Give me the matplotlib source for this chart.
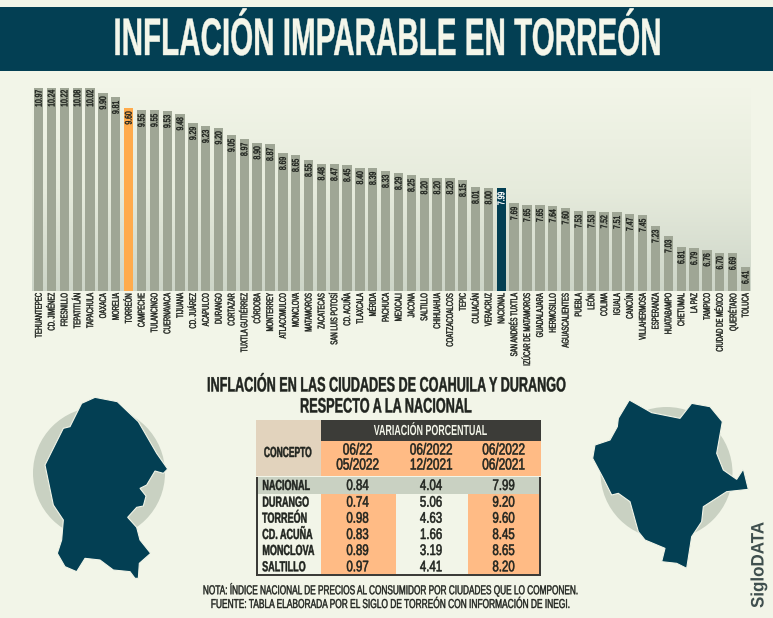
#! /usr/bin/env python3

# Inflacion en Torreon: bar chart of cities, table and two state maps.

import numpy as np
import matplotlib
matplotlib.use("Agg")
import matplotlib.pyplot as plt
from matplotlib.colors import LinearSegmentedColormap
from matplotlib.patches import Circle, Polygon, Rectangle
from matplotlib.patheffects import AbstractPathEffect
from matplotlib.transforms import Affine2D, Bbox

# data
CITIES = ["TEHUANTEPEC", "CD. JIMÉNEZ", "FRESNILLO", "TEPATITLÁN", "TAPACHULA", "OAXACA", "MORELIA",
          "TORREÓN", "CAMPECHE", "TULANCINGO", "CUERNAVACA", "TIJUANA", "CD. JUÁREZ", "ACAPULCO",
          "DURANGO", "CORTAZAR", "TUXTLA GUTIÉRREZ", "CÓRDOBA", "MONTERREY", "ATLACOMULCO", "MONCLOVA",
          "MATAMOROS", "ZACATECAS", "SAN LUIS POTOSÍ", "CD. ACUÑA", "TLAXCALA", "MÉRIDA", "PACHUCA",
          "MEXICALI", "JACONA", "SALTILLO", "CHIHUAHUA", "COATZACOALCOS", "TEPIC", "CULIACÁN", "VERACRUZ",
          "NACIONAL", "SAN ANDRÉS TUXTLA", "IZÚCAR DE MATAMOROS", "GUADALAJARA", "HERMOSILLO",
          "AGUASCALIENTES", "PUEBLA", "LEÓN", "COLIMA", "IGUALA", "CANCÚN", "VILLAHERMOSA", "ESPERANZA",
          "HUATABAMPO", "CHETUMAL", "LA PAZ", "TAMPICO", "CIUDAD DE MÉXICO", "QUERÉTARO", "TOLUCA"]
INFLATION = [10.97, 10.24, 10.22, 10.08, 10.02, 9.90, 9.81, 9.60, 9.55, 9.55, 9.53, 9.48, 9.29, 9.23,
             9.20, 9.05, 8.97, 8.90, 8.87, 8.69, 8.65, 8.55, 8.48, 8.47, 8.45, 8.40, 8.39, 8.33, 8.29,
             8.25, 8.20, 8.20, 8.20, 8.15, 8.01, 8.00, 7.99, 7.69, 7.65, 7.65, 7.64, 7.60, 7.53, 7.53,
             7.52, 7.51, 7.47, 7.45, 7.23, 7.03, 6.81, 6.79, 6.76, 6.70, 6.69, 6.41]

TABLE_ROWS = ["NACIONAL", "DURANGO", "TORREÓN", "CD. ACUÑA", "MONCLOVA", "SALTILLO"]
TABLE_COL1 = ["0.84", "0.74", "0.98", "0.83", "0.89", "0.97"]
TABLE_COL2 = ["4.04", "5.06", "4.63", "1.66", "3.19", "4.41"]
TABLE_COL3 = ["7.99", "9.20", "9.60", "8.45", "8.65", "8.20"]
TABLE_HEADS = ["06/22\n05/2022", "06/2022\n12/2021", "06/2022\n06/2021"]

COAHUILA = [(285, 22), (352, 35), (415, 95), (470, 190), (503, 237), (490, 250), (465, 243), (440, 285),
            (420, 295), (438, 318), (430, 348), (410, 352), (383, 382), (410, 412), (420, 450), (452, 490),
            (418, 520), (415, 565), (405, 565), (390, 545), (340, 540), (300, 510), (255, 505), (230, 545),
            (195, 530), (172, 490), (185, 450), (190, 390), (160, 345), (135, 225), (190, 115), (210, 110),
            (245, 40)]
DURANGO_MAP = [(178, 30), (210, 48), (245, 68), (330, 85), (365, 40), (420, 50), (457, 95), (440, 190),
               (460, 240), (500, 268), (520, 237), (535, 298), (470, 305), (400, 350), (395, 395), (365, 440),
               (350, 535), (320, 520), (275, 515), (285, 475), (225, 450), (205, 425), (180, 335), (145, 310),
               (125, 315), (100, 265), (68, 205), (75, 165), (120, 150), (142, 110), (145, 85)]

# colours
BG = "#F2F5E8"
TEAL = "#033F53"
BAR = "#9FA695"
ORANGE = "#FFAB4C"
TABLE_ORANGE = "#FFBB85"
DARK = "#3C3C38"
INK = "#20241F"
SAND = "#E2D3BD"
SAGE = "#C9D1C2"

W, H = 773, 618
plt.rcParams["font.family"] = ["Liberation Sans", "DejaVu Sans"]


# no condensed font installed, so squeeze the glyph outlines of the real text when it is drawn
class Squeeze(AbstractPathEffect):
    def __init__(self, scale, anchor="center", stroke=0.0, vertical=False):
        super().__init__()
        self.scale = scale
        self.anchor = anchor
        self.stroke = stroke
        self.vertical = vertical

    def draw_path(self, renderer, gc, tpath, affine, rgbFace=None):
        box = affine.transform_path(tpath).get_extents()
        if self.vertical:
            pos = box.y1 if self.anchor == "end" else (box.y0 + box.y1) / 2
            squeeze = Affine2D().translate(0, -pos).scale(1, self.scale).translate(0, pos)
        else:
            pos = box.x0 if self.anchor == "end" else (box.x0 + box.x1) / 2
            squeeze = Affine2D().translate(-pos, 0).scale(self.scale, 1).translate(pos, 0)
        gc0 = renderer.new_gc()
        gc0.copy_properties(gc)
        if self.stroke > 0:
            gc0.set_foreground(rgbFace)
            gc0.set_linewidth(self.stroke)
        renderer.draw_path(gc0, tpath, affine + squeeze, rgbFace)
        gc0.restore()


def narrow(t, scale, anchor="center", stroke=0.0, vertical=False):
    t.set_path_effects([Squeeze(scale, anchor, stroke, vertical)])
    full_extent = t.get_window_extent

    # report the box that really gets inked
    def extent(renderer=None, dpi=None):
        b = full_extent(renderer, dpi)
        if vertical:
            pos = b.y1 if anchor == "end" else (b.y0 + b.y1) / 2
            return Bbox([[b.x0, pos + (b.y0 - pos) * scale], [b.x1, pos + (b.y1 - pos) * scale]])
        pos = b.x0 if anchor == "end" else (b.x0 + b.x1) / 2
        return Bbox([[pos + (b.x0 - pos) * scale, b.y0], [pos + (b.x1 - pos) * scale, b.y1]])

    t.get_window_extent = extent
    return t


def fit(t, px, **kw):
    # scale that makes the text px long
    b = t.get_window_extent(fig.canvas.get_renderer())
    long_side = b.height if kw.get("vertical") else b.width
    return narrow(t, px / long_side, **kw)


fig = plt.figure(figsize=(W / 100, H / 100), dpi=100, facecolor=BG)

# full figure axes in pixel coordinates, for all the decoration
bg = fig.add_axes([0, 0, 1, 1])
bg.set_xlim(0, W)
bg.set_ylim(H, 0)
bg.axis("off")

bg.add_patch(Rectangle((0, 7), W, 64, fc=TEAL, ec="none"))
fit(bg.text(386.5, 41, "INFLACIÓN IMPARABLE EN TORREÓN", color="#F4F6EA", fontsize=38,
            fontweight="bold", ha="center", va="center"), 547, stroke=0.3)

# gradient behind the bars
cmap = LinearSegmentedColormap.from_list("plot_bg", [BG, "#E6EBDC", "#CDD5C8"])
grad = np.linspace(0, 1, 256).reshape(-1, 1)
bg.imshow(grad, extent=(32, 751, 291, 88), cmap=cmap, aspect="auto", zorder=0)
bg.set_xlim(0, W)
bg.set_ylim(H, 0)

# bars, the axis is cut near 10 so the first bars get clipped like the original
ax = fig.add_axes([32 / W, 1 - 291 / H, (751 - 32) / W, (291 - 88) / H])
ax.patch.set_alpha(0)
x = np.arange(len(CITIES))
colors = [BAR] * len(CITIES)
colors[CITIES.index("TORREÓN")] = ORANGE
colors[CITIES.index("NACIONAL")] = TEAL
ax.bar(x, INFLATION, width=0.73, color=colors)
ax.set_xlim((32 - 38.7) / 12.85, (751 - 38.7) / 12.85)
ymin, ymax = 5.93, 9.99
ax.set_ylim(ymin, ymax)
for s in ax.spines.values():
    s.set_visible(False)
ax.set_yticks([])
ax.set_xticks(x)
ax.set_xticklabels(CITIES, rotation=90, fontsize=7, color=INK, ha="center", va="top")
ax.tick_params(axis="x", length=0, pad=1.5)
for lab in ax.get_xticklabels():
    narrow(lab, 0.62, anchor="end", stroke=0.3, vertical=True)

for i, v in enumerate(INFLATION):
    lab = ax.annotate("{:.2f}".format(v), (i, min(v, ymax)), xytext=(0, -7.5), textcoords="offset points",
                      rotation=90, ha="center", va="center", fontsize=7,
                      color="white" if CITIES[i] == "NACIONAL" else INK)
    narrow(lab, 0.7, stroke=0.3, vertical=True)

# table title
fit(bg.text(386.5, 386, "INFLACIÓN EN LAS CIUDADES DE COAHUILA Y DURANGO", fontsize=15, fontweight="bold",
            color=INK, ha="center", va="center"), 359, stroke=0.3)
fit(bg.text(386, 407, "RESPECTO A LA NACIONAL", fontsize=15, fontweight="bold",
            color=INK, ha="center", va="center"), 172, stroke=0.3)

# table
col_edges = [321, 396, 468, 541]
row_y = [486, 502.7, 518.7, 535, 551, 567.3]
bg.add_patch(Rectangle((256, 420), 65, 56, fc=SAND, ec="none"))
bg.add_patch(Rectangle((321, 420), 220, 21, fc=DARK, ec="none"))
bg.add_patch(Rectangle((321, 441), 220, 35, fc=TABLE_ORANGE, ec="none"))
bg.add_patch(Rectangle((321, 494), 75, 80, fc=TABLE_ORANGE, ec="none"))
bg.add_patch(Rectangle((468, 494), 73, 80, fc=TABLE_ORANGE, ec="none"))
bg.add_patch(Rectangle((256, 477), 285, 17, fc=SAGE, ec="none"))
bg.add_patch(Rectangle((256, 477), 2, 99, fc=DARK, ec="none"))
bg.add_patch(Rectangle((539, 477), 2, 99, fc=DARK, ec="none"))
bg.add_patch(Rectangle((256, 574), 285, 2, fc=DARK, ec="none"))
fit(bg.text(431, 431, "VARIACIÓN PORCENTUAL", color="#F4F6EA", fontsize=10.5, fontweight="bold",
            ha="center", va="center"), 114)
fit(bg.text(288, 453, "CONCEPTO", color=INK, fontsize=10.5, fontweight="bold", ha="center", va="center"),
    48, stroke=0.3)
for i, head in enumerate(TABLE_HEADS):
    narrow(bg.text((col_edges[i] + col_edges[i + 1]) / 2 - 1, 457.5, head, color=INK, fontsize=11.5,
                   ha="center", va="center", linespacing=1.0), 0.74, stroke=0.4)
for i, row in enumerate(TABLE_ROWS):
    narrow(bg.text(262, row_y[i], row, color=INK, fontsize=10.5, fontweight="bold", ha="left", va="center"),
           0.62, anchor="end", stroke=0.3)
    for j, col in enumerate([TABLE_COL1, TABLE_COL2, TABLE_COL3]):
        narrow(bg.text((col_edges[j] + col_edges[j + 1]) / 2 - 1, row_y[i], col[i], color=INK, fontsize=11,
                       ha="center", va="center"), 0.75, stroke=0.4)

# maps
bg.add_patch(Circle((99, 473), 66, fc=SAGE, ec="none"))
bg.add_patch(Polygon([(px / 3, 390 + py / 3) for px, py in COAHUILA], closed=True, fc=TEAL, ec=BG, lw=0.8))
bg.add_patch(Circle((666.5, 473), 66, fc=SAGE, ec="none"))
bg.add_patch(Polygon([(570 + px / 3, 390 + py / 3) for px, py in DURANGO_MAP], closed=True,
                     fc=TEAL, ec=BG, lw=0.8))

# notes
fit(bg.text(388, 590, "NOTA: ÍNDICE NACIONAL DE PRECIOS AL CONSUMIDOR POR CIUDADES QUE LO COMPONEN.",
            fontsize=9.3, color=INK, ha="center", va="center"), 372, stroke=0.3)
fit(bg.text(388, 605, "FUENTE: TABLA ELABORADA POR EL SIGLO DE TORREÓN CON INFORMACIÓN DE INEGI.",
            fontsize=9.3, color=INK, ha="center", va="center"), 356, stroke=0.3)
fit(bg.text(759, 565, "SigloDATA", rotation=90, fontsize=13, fontweight="bold", color="#3F4F4E",
            ha="center", va="center"), 86, vertical=True)

fig.savefig("out.png", dpi=100, facecolor=BG)
